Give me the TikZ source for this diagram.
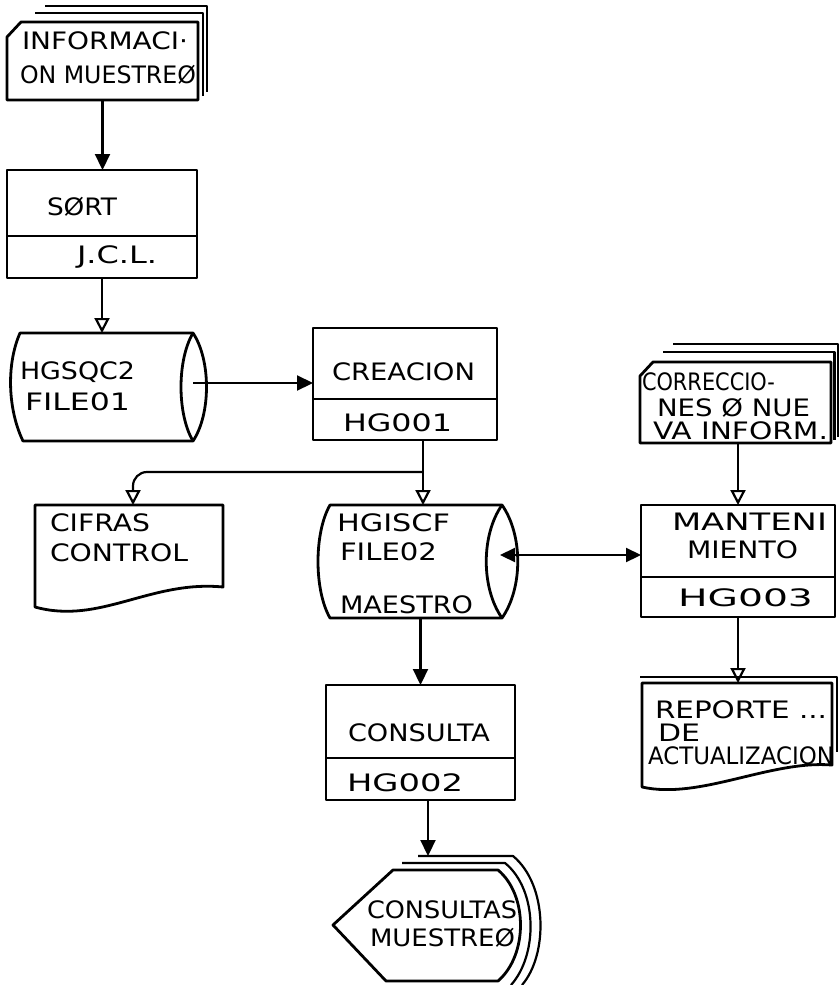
\documentclass[tikz,border=0pt]{standalone}
\usepackage{fontspec}
\usepackage{graphicx}
\setmainfont{DejaVu Sans}
\usetikzlibrary{arrows.meta,calc}
\newcommand{\lbltxt}[2]{\resizebox{#1pt}{\height}{#2}}
\begin{document}
\begin{tikzpicture}[x=1pt,y=-1pt,
  shp/.style={draw, line width=2.8pt, line join=round},
  stk/.style={draw, line width=2.2pt, line join=round},
  ghost/.style={inner sep=0pt, outer sep=0pt},
  conn/.style={line width=2.2pt},
  farrow/.style={conn, -{Triangle[length=16pt,width=15pt]}},
  oarrow/.style={conn, -{Triangle[open,length=15pt,width=15pt]}},
  lbl/.style={inner sep=0pt, outer sep=0pt, anchor=west, font=\fontsize{24}{28}\selectfont}]
\useasboundingbox (0,0) rectangle (839,985);
\fill[white] (0,0) rectangle (839,985);

% ---------- INFORMACION MUESTREO (stacked cards)
\node[ghost, minimum width=191pt, minimum height=78pt] (info) at (102.5,61) {};
\draw[stk] (45,6) -- (207,6) -- (207,92);
\draw[stk] (35,13) -- (203,13) -- (203,96);
\draw[shp, fill=white] (7,37) -- (21,22) -- (198,22) -- (198,100) -- (7,100) -- cycle;
\node[lbl] (tinfo1) at (22,41) {\lbltxt{166}{INFORMACI·}};
\node[lbl] (tinfo2) at (20,75) {\lbltxt{176}{ON MUESTREØ}};

% ---------- SORT
\node[ghost, minimum width=190pt, minimum height=108pt] (sort) at (102,224) {};
\draw[shp] (sort.north west) rectangle (sort.south east);
\draw[shp] (sort.west |- 0,236) -- (sort.east |- 0,236);
\node[lbl] (tsort1) at (47,207) {\lbltxt{70}{SØRT}};
\node[lbl] (tsort2) at (77,257) {\lbltxt{80}{J.C.L.}};

% ---------- HGSQC2 FILE01 (storage)
\node[ghost, minimum width=196pt, minimum height=108pt] (f1) at (110,387) {};
\draw[shp] (20,333) -- (193,333) .. controls (211,360) and (211,414) .. (193,441)
  -- (23,441) .. controls (8,410) and (6,365) .. (20,333) -- cycle;
\draw[shp] (193,333) .. controls (177,360) and (177,414) .. (193,441);
\coordinate (f1lens) at (193,383);
\node[lbl] (tf11) at (20,372) {\lbltxt{115}{HGSQC2}};
\node[lbl] (tf12) at (25,402) {\lbltxt{105}{FILE01}};

% ---------- CREACION
\node[ghost, minimum width=184pt, minimum height=112pt] (creac) at (405,384) {};
\draw[shp] (creac.north west) rectangle (creac.south east);
\draw[shp] (creac.west |- 0,399) -- (creac.east |- 0,399);
\node[lbl] (tcr1) at (332,372) {\lbltxt{143}{CREACION}};
\node[lbl] (tcr2) at (343,423) {\lbltxt{109}{HG001}};

% ---------- CIFRAS CONTROL (document)
\node[ghost, minimum width=188pt, minimum height=105pt] (cif) at (129,557.5) {};
\draw[shp] (35,607) -- (35,505) -- (223,505) -- (223,587)
  .. controls (150,580) and (100,625) .. (35,607) -- cycle;
\node[lbl] (tci1) at (50,523) {\lbltxt{100}{CIFRAS}};
\node[lbl] (tci2) at (50,553) {\lbltxt{138}{CONTROL}};

% ---------- HGISCF FILE02 MAESTRO (storage)
\node[ghost, minimum width=200pt, minimum height=113pt] (f2) at (418,561.5) {};
\draw[shp] (330,505) -- (502,505) .. controls (523,535) and (523,588) .. (502,618)
  -- (330,618) .. controls (314,590) and (314,533) .. (330,505) -- cycle;
\draw[shp] (502,505) .. controls (481,535) and (481,588) .. (502,618);
\coordinate (f2lens) at (500,555);
\node[lbl] (tf21) at (337,523) {\lbltxt{113}{HGISCF}};
\node[lbl] (tf22) at (340,552) {\lbltxt{97}{FILE02}};
\node[lbl] (tf23) at (340,605) {\lbltxt{133}{MAESTRO}};

% ---------- CORRECCIONES (stacked cards)
\node[ghost, minimum width=191pt, minimum height=81pt] (corr) at (735.5,402.5) {};
\draw[stk] (673,344) -- (838,344) -- (838,437);
\draw[stk] (663,352) -- (834.5,352) -- (834.5,440);
\draw[shp, fill=white] (640,376) -- (653,362) -- (831,362) -- (831,443) -- (640,443) -- cycle;
\node[lbl] (tco1) at (642,382) {\lbltxt{133}{CORRECCIO-}};
\node[lbl] (tco2) at (657,408) {\lbltxt{153}{NES Ø NUE}};
\node[lbl] (tco3) at (653,431) {\lbltxt{175}{VA INFORM.}};

% ---------- MANTENIMIENTO
\node[ghost, minimum width=194pt, minimum height=112pt] (mant) at (738,561) {};
\draw[shp] (mant.north west) rectangle (mant.south east);
\draw[shp] (mant.west |- 0,577) -- (mant.east |- 0,577);
\node[lbl] (tma1) at (672,522) {\lbltxt{155}{MANTENI}};
\node[lbl] (tma2) at (687,550) {\lbltxt{111}{MIENTO}};
\node[lbl] (tma3) at (678,598) {\lbltxt{135}{HG003}};

% ---------- REPORTE DE ACTUALIZACION (document)
\node[ghost, minimum width=190pt, minimum height=104pt] (rep) at (737,735) {};
\draw[stk] (640,677) -- (837,677) -- (837,752);
\draw[shp, fill=white] (642,787) -- (642,683) -- (832,683) -- (832,765)
  .. controls (770,760) and (700,800) .. (642,787) -- cycle;
\node[lbl] (tre1) at (655,710) {\lbltxt{172}{REPORTE ...}};
\node[lbl] (tre2) at (658,733) {\lbltxt{42}{DE}};
\node[lbl] (tre3) at (648,756) {\lbltxt{186}{ACTUALIZACION}};

% ---------- CONSULTA
\node[ghost, minimum width=189pt, minimum height=115pt] (cons) at (420.5,742.5) {};
\draw[shp] (cons.north west) rectangle (cons.south east);
\draw[shp] (cons.west |- 0,758) -- (cons.east |- 0,758);
\node[lbl] (tcs1) at (348,733) {\lbltxt{142}{CONSULTA}};
\node[lbl] (tcs2) at (347,783) {\lbltxt{116}{HG002}};

% ---------- CONSULTAS MUESTREO (stacked display)
\node[ghost, minimum width=197pt, minimum height=126pt] (disp) at (431.5,919) {};
\draw[stk] (418,856) -- (513,856) .. controls (548,885) and (548,955) .. (522,985);
\draw[stk] (402,863) -- (505,863) .. controls (538,890) and (538,955) .. (511,985);
\draw[shp, fill=white] (333,925) -- (393,870) -- (498,870) .. controls (528,895) and (528,955) .. (498,981)
  -- (386,981) -- cycle;
\node[lbl] (tds1) at (367,910) {\lbltxt{150}{CONSULTAS}};
\node[lbl] (tds2) at (370,938) {\lbltxt{145}{MUESTREØ}};

% ---------- connectors
\draw[farrow] (info.south) -- (info.south |- sort.north);
\draw[oarrow] (sort.south) -- (sort.south |- f1.north);
\draw[farrow] (f1lens) -- (f1lens -| creac.west);
\coordinate (br) at (423,472);
\draw[conn] (creac.south -| br) -- (br);
\draw[oarrow] (br) -- (br |- f2.north);
\draw[oarrow, rounded corners=14pt] (br) -- (133,472) -- (133,505);
\draw[conn, {Triangle[length=15pt,width=14pt]}-{Triangle[length=15pt,width=14pt]}] (f2lens) -- (f2lens -| mant.west);
\draw[farrow] (cons.north |- f2.south) -- (cons.north);
\draw[farrow] (cons.south -| 428,0) -- (disp.north -| 428,0);
\draw[oarrow] (mant.north |- corr.south) -- (mant.north);
\draw[oarrow] (mant.south) -- (mant.south |- rep.north);
\end{tikzpicture}
\end{document}
